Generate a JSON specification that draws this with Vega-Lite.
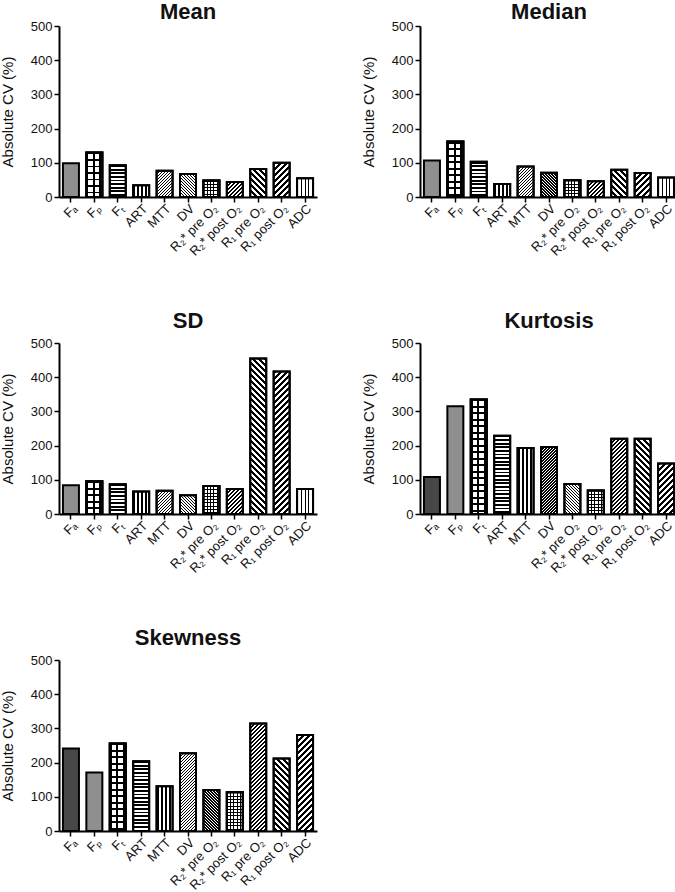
{
"$schema": "https://vega.github.io/schema/vega-lite/v6.json",
"padding": {"left": 0, "top": 1, "right": 0, "bottom": 0},
"background": "white",
"params": [
{"name": "sH", "value": [
{"offset":0,"color":"#000"},{"offset":0.0125,"color":"#000"},{"offset":0.0125,"color":"#0000"},{"offset":0.025,"color":"#0000"},
{"offset":0.025,"color":"#000"},{"offset":0.0375,"color":"#000"},{"offset":0.0375,"color":"#0000"},{"offset":0.05,"color":"#0000"},
{"offset":0.05,"color":"#000"},{"offset":0.0625,"color":"#000"},{"offset":0.0625,"color":"#0000"},{"offset":0.075,"color":"#0000"},
{"offset":0.075,"color":"#000"},{"offset":0.0875,"color":"#000"},{"offset":0.0875,"color":"#0000"},{"offset":0.1,"color":"#0000"},
{"offset":0.1,"color":"#000"},{"offset":0.1125,"color":"#000"},{"offset":0.1125,"color":"#0000"},{"offset":0.125,"color":"#0000"},
{"offset":0.125,"color":"#000"},{"offset":0.1375,"color":"#000"},{"offset":0.1375,"color":"#0000"},{"offset":0.15,"color":"#0000"},
{"offset":0.15,"color":"#000"},{"offset":0.1625,"color":"#000"},{"offset":0.1625,"color":"#0000"},{"offset":0.175,"color":"#0000"},
{"offset":0.175,"color":"#000"},{"offset":0.1875,"color":"#000"},{"offset":0.1875,"color":"#0000"},{"offset":0.2,"color":"#0000"},
{"offset":0.2,"color":"#000"},{"offset":0.2125,"color":"#000"},{"offset":0.2125,"color":"#0000"},{"offset":0.225,"color":"#0000"},
{"offset":0.225,"color":"#000"},{"offset":0.2375,"color":"#000"},{"offset":0.2375,"color":"#0000"},{"offset":0.25,"color":"#0000"},
{"offset":0.25,"color":"#000"},{"offset":0.2625,"color":"#000"},{"offset":0.2625,"color":"#0000"},{"offset":0.275,"color":"#0000"},
{"offset":0.275,"color":"#000"},{"offset":0.2875,"color":"#000"},{"offset":0.2875,"color":"#0000"},{"offset":0.3,"color":"#0000"},
{"offset":0.3,"color":"#000"},{"offset":0.3125,"color":"#000"},{"offset":0.3125,"color":"#0000"},{"offset":0.325,"color":"#0000"},
{"offset":0.325,"color":"#000"},{"offset":0.3375,"color":"#000"},{"offset":0.3375,"color":"#0000"},{"offset":0.35,"color":"#0000"},
{"offset":0.35,"color":"#000"},{"offset":0.3625,"color":"#000"},{"offset":0.3625,"color":"#0000"},{"offset":0.375,"color":"#0000"},
{"offset":0.375,"color":"#000"},{"offset":0.3875,"color":"#000"},{"offset":0.3875,"color":"#0000"},{"offset":0.4,"color":"#0000"},
{"offset":0.4,"color":"#000"},{"offset":0.4125,"color":"#000"},{"offset":0.4125,"color":"#0000"},{"offset":0.425,"color":"#0000"},
{"offset":0.425,"color":"#000"},{"offset":0.4375,"color":"#000"},{"offset":0.4375,"color":"#0000"},{"offset":0.45,"color":"#0000"},
{"offset":0.45,"color":"#000"},{"offset":0.4625,"color":"#000"},{"offset":0.4625,"color":"#0000"},{"offset":0.475,"color":"#0000"},
{"offset":0.475,"color":"#000"},{"offset":0.4875,"color":"#000"},{"offset":0.4875,"color":"#0000"},{"offset":0.5,"color":"#0000"},
{"offset":0.5,"color":"#000"},{"offset":0.5125,"color":"#000"},{"offset":0.5125,"color":"#0000"},{"offset":0.525,"color":"#0000"},
{"offset":0.525,"color":"#000"},{"offset":0.5375,"color":"#000"},{"offset":0.5375,"color":"#0000"},{"offset":0.55,"color":"#0000"},
{"offset":0.55,"color":"#000"},{"offset":0.5625,"color":"#000"},{"offset":0.5625,"color":"#0000"},{"offset":0.575,"color":"#0000"},
{"offset":0.575,"color":"#000"},{"offset":0.5875,"color":"#000"},{"offset":0.5875,"color":"#0000"},{"offset":0.6,"color":"#0000"},
{"offset":0.6,"color":"#000"},{"offset":0.6125,"color":"#000"},{"offset":0.6125,"color":"#0000"},{"offset":0.625,"color":"#0000"},
{"offset":0.625,"color":"#000"},{"offset":0.6375,"color":"#000"},{"offset":0.6375,"color":"#0000"},{"offset":0.65,"color":"#0000"},
{"offset":0.65,"color":"#000"},{"offset":0.6625,"color":"#000"},{"offset":0.6625,"color":"#0000"},{"offset":0.675,"color":"#0000"},
{"offset":0.675,"color":"#000"},{"offset":0.6875,"color":"#000"},{"offset":0.6875,"color":"#0000"},{"offset":0.7,"color":"#0000"},
{"offset":0.7,"color":"#000"},{"offset":0.7125,"color":"#000"},{"offset":0.7125,"color":"#0000"},{"offset":0.725,"color":"#0000"},
{"offset":0.725,"color":"#000"},{"offset":0.7375,"color":"#000"},{"offset":0.7375,"color":"#0000"},{"offset":0.75,"color":"#0000"},
{"offset":0.75,"color":"#000"},{"offset":0.7625,"color":"#000"},{"offset":0.7625,"color":"#0000"},{"offset":0.775,"color":"#0000"},
{"offset":0.775,"color":"#000"},{"offset":0.7875,"color":"#000"},{"offset":0.7875,"color":"#0000"},{"offset":0.8,"color":"#0000"},
{"offset":0.8,"color":"#000"},{"offset":0.8125,"color":"#000"},{"offset":0.8125,"color":"#0000"},{"offset":0.825,"color":"#0000"},
{"offset":0.825,"color":"#000"},{"offset":0.8375,"color":"#000"},{"offset":0.8375,"color":"#0000"},{"offset":0.85,"color":"#0000"},
{"offset":0.85,"color":"#000"},{"offset":0.8625,"color":"#000"},{"offset":0.8625,"color":"#0000"},{"offset":0.875,"color":"#0000"},
{"offset":0.875,"color":"#000"},{"offset":0.8875,"color":"#000"},{"offset":0.8875,"color":"#0000"},{"offset":0.9,"color":"#0000"},
{"offset":0.9,"color":"#000"},{"offset":0.9125,"color":"#000"},{"offset":0.9125,"color":"#0000"},{"offset":0.925,"color":"#0000"},
{"offset":0.925,"color":"#000"},{"offset":0.9375,"color":"#000"},{"offset":0.9375,"color":"#0000"},{"offset":0.95,"color":"#0000"},
{"offset":0.95,"color":"#000"},{"offset":0.9625,"color":"#000"},{"offset":0.9625,"color":"#0000"},{"offset":0.975,"color":"#0000"},
{"offset":0.975,"color":"#000"},{"offset":0.9875,"color":"#000"},{"offset":0.9875,"color":"#0000"},{"offset":1,"color":"#0000"}
]},
{"name": "sT", "value": [
{"offset":0,"color":"#000"},{"offset":0.015,"color":"#000"},{"offset":0.015,"color":"#0000"},{"offset":0.05,"color":"#0000"},
{"offset":0.05,"color":"#000"},{"offset":0.065,"color":"#000"},{"offset":0.065,"color":"#0000"},{"offset":0.1,"color":"#0000"},
{"offset":0.1,"color":"#000"},{"offset":0.115,"color":"#000"},{"offset":0.115,"color":"#0000"},{"offset":0.15,"color":"#0000"},
{"offset":0.15,"color":"#000"},{"offset":0.165,"color":"#000"},{"offset":0.165,"color":"#0000"},{"offset":0.2,"color":"#0000"},
{"offset":0.2,"color":"#000"},{"offset":0.215,"color":"#000"},{"offset":0.215,"color":"#0000"},{"offset":0.25,"color":"#0000"},
{"offset":0.25,"color":"#000"},{"offset":0.265,"color":"#000"},{"offset":0.265,"color":"#0000"},{"offset":0.3,"color":"#0000"},
{"offset":0.3,"color":"#000"},{"offset":0.315,"color":"#000"},{"offset":0.315,"color":"#0000"},{"offset":0.35,"color":"#0000"},
{"offset":0.35,"color":"#000"},{"offset":0.365,"color":"#000"},{"offset":0.365,"color":"#0000"},{"offset":0.4,"color":"#0000"},
{"offset":0.4,"color":"#000"},{"offset":0.415,"color":"#000"},{"offset":0.415,"color":"#0000"},{"offset":0.45,"color":"#0000"},
{"offset":0.45,"color":"#000"},{"offset":0.465,"color":"#000"},{"offset":0.465,"color":"#0000"},{"offset":0.5,"color":"#0000"},
{"offset":0.5,"color":"#000"},{"offset":0.515,"color":"#000"},{"offset":0.515,"color":"#0000"},{"offset":0.55,"color":"#0000"},
{"offset":0.55,"color":"#000"},{"offset":0.565,"color":"#000"},{"offset":0.565,"color":"#0000"},{"offset":0.6,"color":"#0000"},
{"offset":0.6,"color":"#000"},{"offset":0.615,"color":"#000"},{"offset":0.615,"color":"#0000"},{"offset":0.65,"color":"#0000"},
{"offset":0.65,"color":"#000"},{"offset":0.665,"color":"#000"},{"offset":0.665,"color":"#0000"},{"offset":0.7,"color":"#0000"},
{"offset":0.7,"color":"#000"},{"offset":0.715,"color":"#000"},{"offset":0.715,"color":"#0000"},{"offset":0.75,"color":"#0000"},
{"offset":0.75,"color":"#000"},{"offset":0.765,"color":"#000"},{"offset":0.765,"color":"#0000"},{"offset":0.8,"color":"#0000"},
{"offset":0.8,"color":"#000"},{"offset":0.815,"color":"#000"},{"offset":0.815,"color":"#0000"},{"offset":0.85,"color":"#0000"},
{"offset":0.85,"color":"#000"},{"offset":0.865,"color":"#000"},{"offset":0.865,"color":"#0000"},{"offset":0.9,"color":"#0000"},
{"offset":0.9,"color":"#000"},{"offset":0.915,"color":"#000"},{"offset":0.915,"color":"#0000"},{"offset":0.95,"color":"#0000"},
{"offset":0.95,"color":"#000"},{"offset":0.965,"color":"#000"},{"offset":0.965,"color":"#0000"},{"offset":1,"color":"#0000"}
]}
],
"data": {"values": [
{"stat":"Mean","param":"Fₐ","value":99},{"stat":"Mean","param":"Fₚ","value":130},{"stat":"Mean","param":"Fₜ","value":93},{"stat":"Mean","param":"ART","value":34},{"stat":"Mean","param":"MTT","value":77},{"stat":"Mean","param":"DV","value":67},{"stat":"Mean","param":"R₂* pre O₂","value":48},{"stat":"Mean","param":"R₂* post O₂","value":44},{"stat":"Mean","param":"R₁ pre O₂","value":82},{"stat":"Mean","param":"R₁ post O₂","value":100},{"stat":"Mean","param":"ADC","value":55},
{"stat":"Median","param":"Fₐ","value":107},{"stat":"Median","param":"Fₚ","value":162},{"stat":"Median","param":"Fₜ","value":103},{"stat":"Median","param":"ART","value":38},{"stat":"Median","param":"MTT","value":89},{"stat":"Median","param":"DV","value":71},{"stat":"Median","param":"R₂* pre O₂","value":49},{"stat":"Median","param":"R₂* post O₂","value":46},{"stat":"Median","param":"R₁ pre O₂","value":80},{"stat":"Median","param":"R₁ post O₂","value":70},{"stat":"Median","param":"ADC","value":57},
{"stat":"SD","param":"Fₐ","value":84},{"stat":"SD","param":"Fₚ","value":96},{"stat":"SD","param":"Fₜ","value":87},{"stat":"SD","param":"ART","value":66},{"stat":"SD","param":"MTT","value":68},{"stat":"SD","param":"DV","value":55},{"stat":"SD","param":"R₂* pre O₂","value":82},{"stat":"SD","param":"R₂* post O₂","value":73},{"stat":"SD","param":"R₁ pre O₂","value":455},{"stat":"SD","param":"R₁ post O₂","value":417},{"stat":"SD","param":"ADC","value":73},
{"stat":"Kurtosis","param":"Fₐ","value":108},{"stat":"Kurtosis","param":"Fₚ","value":315},{"stat":"Kurtosis","param":"Fₜ","value":335},{"stat":"Kurtosis","param":"ART","value":229},{"stat":"Kurtosis","param":"MTT","value":193},{"stat":"Kurtosis","param":"DV","value":196},{"stat":"Kurtosis","param":"R₂* pre O₂","value":88},{"stat":"Kurtosis","param":"R₂* post O₂","value":69},{"stat":"Kurtosis","param":"R₁ pre O₂","value":220},{"stat":"Kurtosis","param":"R₁ post O₂","value":220},{"stat":"Kurtosis","param":"ADC","value":148},
{"stat":"Skewness","param":"Fₐ","value":241},{"stat":"Skewness","param":"Fₚ","value":171},{"stat":"Skewness","param":"Fₜ","value":256},{"stat":"Skewness","param":"ART","value":204},{"stat":"Skewness","param":"MTT","value":131},{"stat":"Skewness","param":"DV","value":227},{"stat":"Skewness","param":"R₂* pre O₂","value":120},{"stat":"Skewness","param":"R₂* post O₂","value":113},{"stat":"Skewness","param":"R₁ pre O₂","value":314},{"stat":"Skewness","param":"R₁ post O₂","value":212},{"stat":"Skewness","param":"ADC","value":281}
]},
"columns": 2,
"spacing": {"row": 51, "column": 44},
"concat": [
{
"title": {"text": "Mean", "offset": -4},
"width": 258, "height": 171,
"transform": [{"filter": "datum.stat=='Mean'"}],
"encoding": {
"x": {"field": "param", "type": "nominal", "sort": ["Fₐ","Fₚ","Fₜ","ART","MTT","DV","R₂* pre O₂","R₂* post O₂","R₁ pre O₂","R₁ post O₂","ADC"], "title": null},
"y": {"field": "value", "type": "quantitative", "scale": {"domain": [0, 500]}, "title": "Absolute CV (%)"}
},
"layer": [
{"mark": {"type": "bar", "width": 16}, "encoding": {"fill": {"condition": {"test": "datum.param=='Fₐ'", "value": "#8f8f8f"}, "value": "white"}}},
{"transform": [{"filter": "indexof(['Fₜ','Fₚ','R₂* pre O₂'],datum.param)>=0"}], "mark": {"type": "bar", "width": 16, "fill": {"expr": "{gradient:'linear',x1:0,y1:0,x2:0,y2:(datum.param=='Fₜ'?144:datum.param=='Fₚ'?130:66)/(datum.value*0.342),stops:datum.param=='Fₜ'?sH:sT}"}}},
{"transform": [{"filter": "indexof(['ART','ADC','Fₚ','R₂* pre O₂'],datum.param)>=0"}], "mark": {"type": "bar", "width": 16, "fill": {"expr": "{gradient:'linear',x1:0,y1:0,x2:(datum.param=='ART'?160:datum.param=='ADC'?75:datum.param=='Fₚ'?130:66)/16,y2:0,stops:datum.param=='ART'?sH:sT}"}}},
{"transform": [{"filter": "indexof(['MTT','R₂* post O₂','R₁ post O₂'],datum.param)>=0"}], "mark": {"type": "bar", "width": 16, "fill": {"expr": "{gradient:'linear',x1:0,y1:0,x2:(datum.param=='MTT'?120:datum.param=='R₂* post O₂'?160:240)*16/(256+datum.value*datum.value*0.116964),y2:(datum.param=='MTT'?120:datum.param=='R₂* post O₂'?160:240)*datum.value*0.342/(256+datum.value*datum.value*0.116964),stops:sH}"}}},
{"transform": [{"filter": "indexof(['DV','R₁ pre O₂'],datum.param)>=0"}], "mark": {"type": "bar", "width": 16, "fill": {"expr": "{gradient:'linear',x1:1,y1:0,x2:1-(datum.param=='DV'?120:240)*16/(256+datum.value*datum.value*0.116964),y2:(datum.param=='DV'?120:240)*datum.value*0.342/(256+datum.value*datum.value*0.116964),stops:sH}"}}}
]
},
{
"title": {"text": "Median", "offset": -4},
"width": 258, "height": 171,
"transform": [{"filter": "datum.stat=='Median'"}],
"encoding": {
"x": {"field": "param", "type": "nominal", "sort": ["Fₐ","Fₚ","Fₜ","ART","MTT","DV","R₂* pre O₂","R₂* post O₂","R₁ pre O₂","R₁ post O₂","ADC"], "title": null},
"y": {"field": "value", "type": "quantitative", "scale": {"domain": [0, 500]}, "title": "Absolute CV (%)"}
},
"layer": [
{"mark": {"type": "bar", "width": 16}, "encoding": {"fill": {"condition": {"test": "datum.param=='Fₐ'", "value": "#8f8f8f"}, "value": "white"}}},
{"transform": [{"filter": "indexof(['Fₜ','Fₚ','R₂* pre O₂'],datum.param)>=0"}], "mark": {"type": "bar", "width": 16, "fill": {"expr": "{gradient:'linear',x1:0,y1:0,x2:0,y2:(datum.param=='Fₜ'?144:datum.param=='Fₚ'?130:66)/(datum.value*0.342),stops:datum.param=='Fₜ'?sH:sT}"}}},
{"transform": [{"filter": "indexof(['ART','ADC','Fₚ','R₂* pre O₂'],datum.param)>=0"}], "mark": {"type": "bar", "width": 16, "fill": {"expr": "{gradient:'linear',x1:0,y1:0,x2:(datum.param=='ART'?160:datum.param=='ADC'?75:datum.param=='Fₚ'?130:66)/16,y2:0,stops:datum.param=='ART'?sH:sT}"}}},
{"transform": [{"filter": "indexof(['MTT','R₂* post O₂','R₁ post O₂'],datum.param)>=0"}], "mark": {"type": "bar", "width": 16, "fill": {"expr": "{gradient:'linear',x1:0,y1:0,x2:(datum.param=='MTT'?120:datum.param=='R₂* post O₂'?160:240)*16/(256+datum.value*datum.value*0.116964),y2:(datum.param=='MTT'?120:datum.param=='R₂* post O₂'?160:240)*datum.value*0.342/(256+datum.value*datum.value*0.116964),stops:sH}"}}},
{"transform": [{"filter": "indexof(['DV','R₁ pre O₂'],datum.param)>=0"}], "mark": {"type": "bar", "width": 16, "fill": {"expr": "{gradient:'linear',x1:1,y1:0,x2:1-(datum.param=='DV'?120:240)*16/(256+datum.value*datum.value*0.116964),y2:(datum.param=='DV'?120:240)*datum.value*0.342/(256+datum.value*datum.value*0.116964),stops:sH}"}}}
]
},
{
"title": {"text": "SD", "offset": 4},
"width": 258, "height": 171,
"transform": [{"filter": "datum.stat=='SD'"}],
"encoding": {
"x": {"field": "param", "type": "nominal", "sort": ["Fₐ","Fₚ","Fₜ","ART","MTT","DV","R₂* pre O₂","R₂* post O₂","R₁ pre O₂","R₁ post O₂","ADC"], "title": null},
"y": {"field": "value", "type": "quantitative", "scale": {"domain": [0, 500]}, "title": "Absolute CV (%)"}
},
"layer": [
{"mark": {"type": "bar", "width": 16}, "encoding": {"fill": {"condition": {"test": "datum.param=='Fₐ'", "value": "#8f8f8f"}, "value": "white"}}},
{"transform": [{"filter": "indexof(['Fₜ','Fₚ','R₂* pre O₂'],datum.param)>=0"}], "mark": {"type": "bar", "width": 16, "fill": {"expr": "{gradient:'linear',x1:0,y1:0,x2:0,y2:(datum.param=='Fₜ'?144:datum.param=='Fₚ'?130:66)/(datum.value*0.342),stops:datum.param=='Fₜ'?sH:sT}"}}},
{"transform": [{"filter": "indexof(['ART','ADC','Fₚ','R₂* pre O₂'],datum.param)>=0"}], "mark": {"type": "bar", "width": 16, "fill": {"expr": "{gradient:'linear',x1:0,y1:0,x2:(datum.param=='ART'?160:datum.param=='ADC'?75:datum.param=='Fₚ'?130:66)/16,y2:0,stops:datum.param=='ART'?sH:sT}"}}},
{"transform": [{"filter": "indexof(['MTT','R₂* post O₂','R₁ post O₂'],datum.param)>=0"}], "mark": {"type": "bar", "width": 16, "fill": {"expr": "{gradient:'linear',x1:0,y1:0,x2:(datum.param=='MTT'?120:datum.param=='R₂* post O₂'?160:240)*16/(256+datum.value*datum.value*0.116964),y2:(datum.param=='MTT'?120:datum.param=='R₂* post O₂'?160:240)*datum.value*0.342/(256+datum.value*datum.value*0.116964),stops:sH}"}}},
{"transform": [{"filter": "indexof(['DV','R₁ pre O₂'],datum.param)>=0"}], "mark": {"type": "bar", "width": 16, "fill": {"expr": "{gradient:'linear',x1:1,y1:0,x2:1-(datum.param=='DV'?120:240)*16/(256+datum.value*datum.value*0.116964),y2:(datum.param=='DV'?120:240)*datum.value*0.342/(256+datum.value*datum.value*0.116964),stops:sH}"}}}
]
},
{
"title": {"text": "Kurtosis", "offset": 4},
"width": 258, "height": 171,
"transform": [{"filter": "datum.stat=='Kurtosis'"}],
"encoding": {
"x": {"field": "param", "type": "nominal", "sort": ["Fₐ","Fₚ","Fₜ","ART","MTT","DV","R₂* pre O₂","R₂* post O₂","R₁ pre O₂","R₁ post O₂","ADC"], "title": null},
"y": {"field": "value", "type": "quantitative", "scale": {"domain": [0, 500]}, "title": "Absolute CV (%)"}
},
"layer": [
{"mark": {"type": "bar", "width": 16}, "encoding": {"fill": {"condition": [{"test": "datum.param=='Fₐ'", "value": "#474747"}, {"test": "datum.param=='Fₚ'", "value": "#8f8f8f"}], "value": "white"}}},
{"transform": [{"filter": "indexof(['ART','Fₜ','R₂* post O₂'],datum.param)>=0"}], "mark": {"type": "bar", "width": 16, "fill": {"expr": "{gradient:'linear',x1:0,y1:0,x2:0,y2:(datum.param=='ART'?144:datum.param=='Fₜ'?130:66)/(datum.value*0.342),stops:datum.param=='ART'?sH:sT}"}}},
{"transform": [{"filter": "indexof(['MTT','Fₜ','R₂* post O₂'],datum.param)>=0"}], "mark": {"type": "bar", "width": 16, "fill": {"expr": "{gradient:'linear',x1:0,y1:0,x2:(datum.param=='MTT'?160:datum.param=='Fₜ'?130:66)/16,y2:0,stops:datum.param=='MTT'?sH:sT}"}}},
{"transform": [{"filter": "indexof(['DV','R₁ pre O₂','ADC'],datum.param)>=0"}], "mark": {"type": "bar", "width": 16, "fill": {"expr": "{gradient:'linear',x1:0,y1:0,x2:(datum.param=='DV'?120:datum.param=='R₁ pre O₂'?160:240)*16/(256+datum.value*datum.value*0.116964),y2:(datum.param=='DV'?120:datum.param=='R₁ pre O₂'?160:240)*datum.value*0.342/(256+datum.value*datum.value*0.116964),stops:sH}"}}},
{"transform": [{"filter": "indexof(['R₂* pre O₂','R₁ post O₂'],datum.param)>=0"}], "mark": {"type": "bar", "width": 16, "fill": {"expr": "{gradient:'linear',x1:1,y1:0,x2:1-(datum.param=='R₂* pre O₂'?120:240)*16/(256+datum.value*datum.value*0.116964),y2:(datum.param=='R₂* pre O₂'?120:240)*datum.value*0.342/(256+datum.value*datum.value*0.116964),stops:sH}"}}}
]
},
{
"title": {"text": "Skewness", "offset": 4},
"width": 258, "height": 171,
"transform": [{"filter": "datum.stat=='Skewness'"}],
"encoding": {
"x": {"field": "param", "type": "nominal", "sort": ["Fₐ","Fₚ","Fₜ","ART","MTT","DV","R₂* pre O₂","R₂* post O₂","R₁ pre O₂","R₁ post O₂","ADC"], "title": null},
"y": {"field": "value", "type": "quantitative", "scale": {"domain": [0, 500]}, "title": "Absolute CV (%)"}
},
"layer": [
{"mark": {"type": "bar", "width": 16}, "encoding": {"fill": {"condition": [{"test": "datum.param=='Fₐ'", "value": "#474747"}, {"test": "datum.param=='Fₚ'", "value": "#8f8f8f"}], "value": "white"}}},
{"transform": [{"filter": "indexof(['ART','Fₜ','R₂* post O₂'],datum.param)>=0"}], "mark": {"type": "bar", "width": 16, "fill": {"expr": "{gradient:'linear',x1:0,y1:0,x2:0,y2:(datum.param=='ART'?144:datum.param=='Fₜ'?130:66)/(datum.value*0.342),stops:datum.param=='ART'?sH:sT}"}}},
{"transform": [{"filter": "indexof(['MTT','Fₜ','R₂* post O₂'],datum.param)>=0"}], "mark": {"type": "bar", "width": 16, "fill": {"expr": "{gradient:'linear',x1:0,y1:0,x2:(datum.param=='MTT'?160:datum.param=='Fₜ'?130:66)/16,y2:0,stops:datum.param=='MTT'?sH:sT}"}}},
{"transform": [{"filter": "indexof(['DV','R₁ pre O₂','ADC'],datum.param)>=0"}], "mark": {"type": "bar", "width": 16, "fill": {"expr": "{gradient:'linear',x1:0,y1:0,x2:(datum.param=='DV'?120:datum.param=='R₁ pre O₂'?160:240)*16/(256+datum.value*datum.value*0.116964),y2:(datum.param=='DV'?120:datum.param=='R₁ pre O₂'?160:240)*datum.value*0.342/(256+datum.value*datum.value*0.116964),stops:sH}"}}},
{"transform": [{"filter": "indexof(['R₂* pre O₂','R₁ post O₂'],datum.param)>=0"}], "mark": {"type": "bar", "width": 16, "fill": {"expr": "{gradient:'linear',x1:1,y1:0,x2:1-(datum.param=='R₂* pre O₂'?120:240)*16/(256+datum.value*datum.value*0.116964),y2:(datum.param=='R₂* pre O₂'?120:240)*datum.value*0.342/(256+datum.value*datum.value*0.116964),stops:sH}"}}}
]
}
],
"config": {
"font": "Liberation Sans",
"view": {"stroke": null},
"scale": {"bandPaddingInner": 0.32, "bandPaddingOuter": 0.17},
"bar": {"stroke": "black", "strokeWidth": 2},
"axis": {"domainColor": "black", "domainWidth": 2, "tickColor": "black", "tickWidth": 1.5, "tickSize": 5, "labelFont": "Liberation Sans", "labelFontSize": 13, "labelColor": "#111111", "titleFont": "Liberation Sans", "titleFontSize": 15, "titleFontWeight": "normal", "titleColor": "#111111", "grid": false},
"axisX": {"labelAngle": -45, "labelPadding": 0, "labelFontSize": 13},
"axisY": {"tickCount": 5, "labelPadding": 2, "titlePadding": 15},
"title": {"font": "Liberation Sans", "fontSize": 22, "fontWeight": "bold", "color": "#111111", "anchor": "middle", "frame": "group"}
}
}
